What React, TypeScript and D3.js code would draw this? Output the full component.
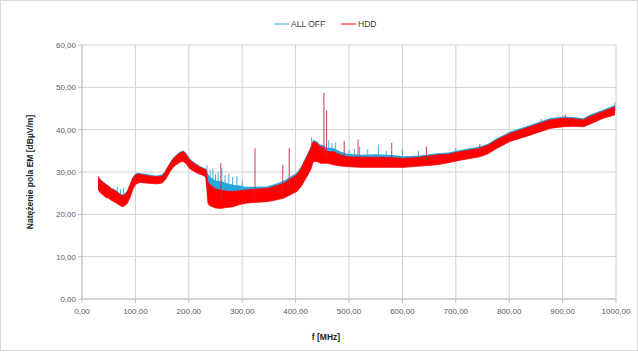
import React from 'react'
import * as d3 from 'd3'

// frequency samples [MHz] and the band the traces cover (dBuV/m)
const freq = [30, 35, 40, 45, 50, 55, 60, 65, 70, 75, 80, 85, 90, 95, 100, 105, 110, 120, 130, 140, 150, 155, 160, 165, 170, 175, 180, 185, 190, 195, 200, 205, 210, 215, 220, 225, 230, 232, 236, 240, 250, 260, 270, 283, 295, 305, 320, 346, 360, 377, 390, 402, 410, 421, 428, 433, 440, 446, 452, 458, 471, 485, 496, 521, 552, 580, 602, 633, 664, 686, 708, 745, 760, 777, 801, 839, 876, 901, 920, 939, 951, 976, 998]
const hddLo = [26.0, 25.0, 24.5, 24.0, 23.8, 23.3, 23.0, 22.6, 22.2, 21.8, 22.0, 22.6, 24.0, 25.8, 27.0, 27.4, 27.5, 27.4, 27.3, 27.2, 27.4, 28.0, 29.0, 30.1, 31.0, 31.6, 32.0, 32.4, 32.5, 32.0, 31.0, 30.5, 30.2, 29.8, 29.5, 29.3, 29.0, 28.5, 22.5, 22.0, 21.5, 21.4, 21.6, 21.8, 22.3, 22.6, 22.8, 23.0, 23.3, 23.8, 24.6, 25.4, 26.5, 28.9, 30.5, 32.4, 32.5, 32.1, 32.0, 32.1, 31.7, 31.4, 31.3, 31.1, 31.1, 31.1, 31.1, 31.4, 31.7, 32.2, 32.8, 33.6, 34.3, 35.6, 37.2, 38.7, 40.3, 40.7, 40.8, 40.7, 41.3, 42.7, 43.5]
const hddHi = [28.9, 28.0, 27.5, 27.0, 26.6, 26.0, 25.8, 25.3, 24.8, 24.4, 24.6, 25.4, 27.0, 28.5, 29.3, 29.5, 29.4, 29.2, 29.0, 28.9, 29.0, 29.8, 31.0, 32.0, 33.0, 33.6, 34.2, 34.6, 34.8, 34.2, 33.2, 32.5, 32.0, 31.6, 31.2, 30.9, 30.6, 30.6, 27.5, 27.0, 26.0, 25.7, 25.5, 25.4, 25.6, 25.7, 25.9, 26.1, 26.6, 27.3, 28.3, 29.3, 30.8, 33.6, 35.5, 37.2, 36.8, 36.0, 35.8, 34.8, 34.8, 34.0, 33.6, 33.5, 33.5, 33.4, 33.2, 33.5, 34.0, 34.2, 34.8, 35.6, 36.3, 37.6, 39.1, 40.7, 42.3, 42.7, 42.6, 42.3, 43.1, 44.3, 45.4]
const offLo = [26.4, 25.4, 24.9, 24.4, 24.2, 23.7, 23.4, 23.0, 22.6, 22.2, 22.4, 23.0, 24.4, 26.2, 27.4, 27.8, 27.9, 27.8, 27.7, 27.6, 27.8, 28.4, 29.4, 30.5, 31.4, 32.0, 32.4, 32.8, 32.9, 32.4, 31.4, 30.9, 30.6, 30.2, 29.9, 29.7, 29.4, 28.9, 23.5, 23.0, 22.5, 22.4, 22.6, 22.8, 23.0, 23.2, 23.3, 23.5, 23.8, 24.3, 25.1, 25.9, 27.0, 29.4, 31.0, 32.9, 33.0, 32.6, 32.5, 32.6, 32.2, 31.9, 31.8, 31.6, 31.6, 31.6, 31.6, 31.9, 32.2, 32.7, 33.3, 34.1, 34.8, 36.1, 37.7, 39.2, 40.8, 41.2, 41.3, 41.2, 41.8, 43.2, 44.0]
const offHi = [29.1, 28.2, 27.7, 27.2, 26.8, 26.2, 26.0, 25.6, 25.1, 24.7, 24.9, 25.7, 27.3, 28.8, 29.6, 29.8, 29.7, 29.5, 29.3, 29.2, 29.4, 30.1, 31.3, 32.3, 33.3, 33.9, 34.5, 34.9, 35.1, 34.5, 33.5, 32.8, 32.3, 31.9, 31.5, 31.2, 30.9, 30.9, 29.5, 28.8, 28.0, 27.8, 27.4, 27.0, 26.8, 26.5, 26.5, 26.6, 27.1, 27.9, 28.9, 29.8, 31.2, 34.0, 35.9, 37.6, 37.2, 36.5, 36.3, 35.8, 35.6, 34.8, 34.3, 34.1, 34.2, 34.0, 33.7, 33.9, 34.4, 34.6, 35.2, 36.0, 36.7, 38.0, 39.5, 41.1, 42.7, 43.1, 43.0, 42.7, 43.5, 44.7, 45.8]

// isolated narrow peaks
const hddSpikeF = [260, 324, 376, 388, 453, 458, 491, 517, 580, 645, 745, 905]
const hddSpikeV = [32.1, 35.6, 31.7, 35.6, 48.7, 44.5, 37.3, 37.7, 36.9, 36.0, 36.6, 43.6]
const offSpikeF = [66, 72, 78, 234, 240, 245, 250, 255, 262, 268, 275, 282, 290, 300, 415, 430, 462, 468, 475, 500, 510, 520, 535, 555, 570, 600, 630, 700, 860, 998]
const offSpikeV = [26.5, 26.0, 26.3, 31.7, 30.5, 30.8, 29.5, 30.0, 31.0, 29.2, 29.6, 28.8, 29.0, 28.0, 32.5, 38.2, 37.5, 36.8, 37.0, 35.2, 35.5, 36.0, 35.4, 36.5, 35.0, 35.5, 35.0, 35.6, 42.5, 46.5]

const yTicks = [0, 10, 20, 30, 40, 50, 60]
const xTicks = [0, 100, 200, 300, 400, 500, 600, 700, 800, 900, 1000]

const W = 638
const H = 352
const font = 'Liberation Sans, Arial, sans-serif'
const blue = '#2aa6df'
const red = '#ff0000'

const fmt = (v: number) => v.toFixed(2).replace('.', ',')

export default function App() {
  const x = d3.scaleLinear().domain([0, 1000]).range([82, 616])
  const y = d3.scaleLinear().domain([0, 60]).range([299, 45])
  const hddMid = d3.scaleLinear().domain(freq).range(hddLo.map((v, i) => (v + hddHi[i]) / 2))

  const band = (lo: number[], hi: number[]) =>
    d3.area<number>()
      .x((d, i) => x(freq[i]))
      .y0((d, i) => y(lo[i]))
      .y1((d, i) => y(hi[i]))(freq) as string

  const bandEdge = (vals: number[]) =>
    d3.line<number>().x((d, i) => x(freq[i])).y((d, i) => y(vals[i]))(freq) as string

  return (
    <svg width={W} height={H} style={{ position: 'absolute', left: 0, top: 0, background: '#fff' }} fontFamily={font}>
      <rect x={0.5} y={0.5} width={W - 1} height={H - 2} fill="#fff" stroke="#d9d9d9" />

      {/* grid */}
      {yTicks.map(t => (
        <line key={'gy' + t} x1={x(0)} x2={x(1000)} y1={y(t)} y2={y(t)} stroke="#d0d0d0" strokeWidth={1} />
      ))}
      {xTicks.map(t => (
        <line key={'gx' + t} x1={x(t)} x2={x(t)} y1={y(0)} y2={y(60)} stroke="#d0d0d0" strokeWidth={1} />
      ))}
      {/* axes */}
      <line x1={x(0)} x2={x(0)} y1={y(0)} y2={y(60)} stroke="#bfbfbf" />
      <line x1={x(0)} x2={x(1000)} y1={y(0)} y2={y(0)} stroke="#bfbfbf" />
      {yTicks.map(t => (
        <g key={'ty' + t}>
          <line x1={x(0) - 4} x2={x(0)} y1={y(t)} y2={y(t)} stroke="#bfbfbf" />
          <text x={x(0) - 6} y={y(t) + 3} fontSize={8} fill="#595959" textAnchor="end">{fmt(t)}</text>
        </g>
      ))}
      {xTicks.map(t => (
        <g key={'tx' + t}>
          <line x1={x(t)} x2={x(t)} y1={y(0)} y2={y(0) + 4} stroke="#bfbfbf" />
          <text x={x(t)} y={y(0) + 15} fontSize={8} fill="#595959" textAnchor="middle">{fmt(t)}</text>
        </g>
      ))}

      {/* ALL OFF */}
      <path d={band(offLo, offHi)} fill={blue} />
      {offSpikeF.map((f, i) => (
        <line key={'so' + i} x1={x(f)} x2={x(f)} y1={y(offSpikeV[i])} y2={y(hddMid(f))} stroke={blue} strokeWidth={0.9} />
      ))}
      {/* HDD */}
      <path d={band(hddLo, hddHi)} fill={red} />
      <path d={bandEdge(hddHi)} fill="none" stroke={red} strokeWidth={0.8} />
      <path d={bandEdge(hddLo)} fill="none" stroke={red} strokeWidth={0.8} />
      {hddSpikeF.map((f, i) => (
        <line key={'sh' + i} x1={x(f)} x2={x(f)} y1={y(hddSpikeV[i])} y2={y(hddMid(f))} stroke="#c0283c" strokeWidth={0.9} />
      ))}

      {/* legend */}
      <line x1={274} x2={289} y1={24} y2={24} stroke={blue} strokeWidth={1} />
      <text x={291} y={27} fontSize={8.5} fill="#404040">ALL OFF</text>
      <line x1={341} x2={356} y1={24} y2={24} stroke={red} strokeWidth={1} />
      <text x={358} y={27} fontSize={8.5} fill="#404040">HDD</text>

      {/* axis titles */}
      <text transform={`translate(33,${(y(0) + y(60)) / 2}) rotate(-90)`} textAnchor="middle" fontSize={8.5} fontWeight="bold" fill="#262626">
        Natężenie pola EM [dBµV/m]
      </text>
      <text x={326} y={340} textAnchor="middle" fontSize={8.5} fontWeight="bold" fill="#262626">f [MHz]</text>
    </svg>
  )
}
